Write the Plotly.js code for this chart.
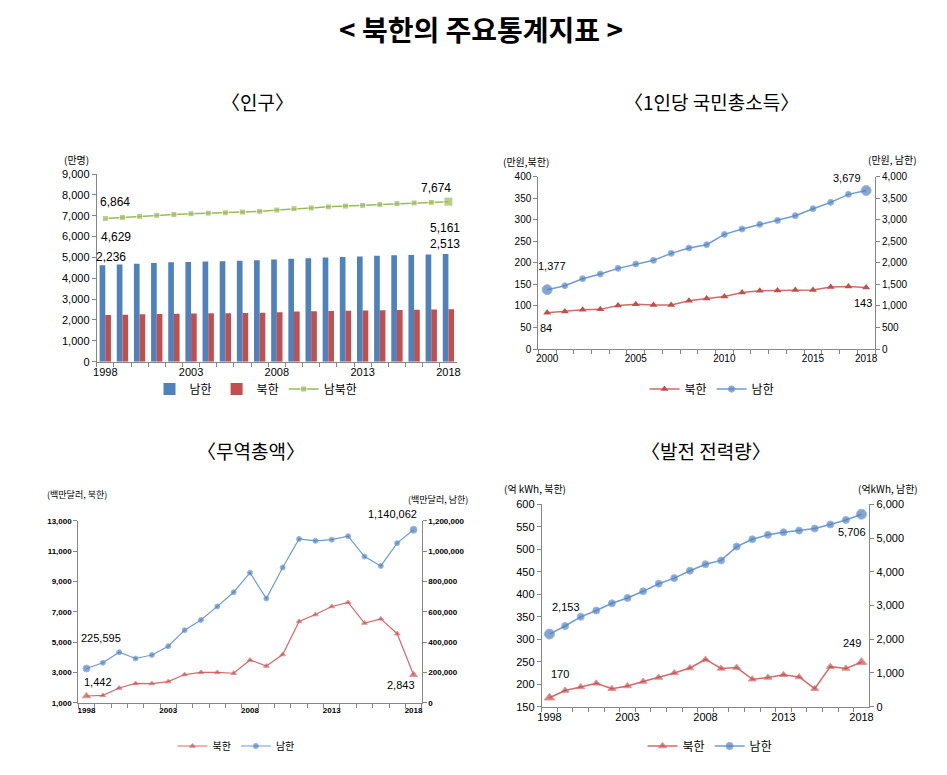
<!DOCTYPE html>
<html>
<head>
<meta charset="utf-8">
<script src="https://cdn.plot.ly/plotly-3.0.1.min.js"></script>
<style>html,body{margin:0;padding:0;background:#fff;}#chart{width:947px;height:775px;}</style>
</head>
<body>
<div id="chart"></div>
<script>
// ---------- DATA ----------
const popYears = ['1998','1999','2000','2001','2002','2003','2004','2005','2006','2007','2008','2009','2010','2011','2012','2013','2014','2015','2016','2017','2018'];
const popSouth = [4629,4662,4701,4736,4764,4786,4804,4814,4837,4860,4905,4931,4955,4994,5020,5043,5075,5102,5122,5136,5161];
const popNorth = [2236,2255,2270,2283,2295,2307,2318,2328,2337,2347,2366,2406,2419,2430,2443,2455,2466,2478,2490,2501,2513];
const popTotal = [6864,6917,6971,7019,7059,7093,7122,7142,7174,7207,7271,7337,7374,7424,7463,7498,7541,7580,7612,7637,7674];
const popTickLabels = ['1998','2003','2008','2013','2018'];

const gniYears = ['2000','2001','2002','2003','2004','2005','2006','2007','2008','2009','2010','2011','2012','2013','2014','2015','2016','2017','2018'];
const gniNorth = [84,87,91,92,101,104,102,102,112,117,122,131,135,136,137,137,144,145,143];
const gniSouth = [1377,1470,1632,1741,1872,1973,2058,2220,2344,2422,2661,2785,2894,2986,3095,3257,3404,3590,3679];
const gniTickLabels = ['2000','2005','2010','2015','2018'];

const tradeYears = popYears;
const tradeNorth = [1442,1480,1969,2270,2260,2391,2857,3002,2996,2941,3816,3414,4174,6357,6811,7345,7611,6252,6532,5550,2843];
const tradeSouth = [225595,263444,332750,291537,314597,372642,478308,545657,634848,728335,857282,686619,891596,1079627,1067454,1075218,1098179,963256,901619,1052173,1140062];
const tradeTickLabels = ['1998','2003','2008','2013','2018'];

const powerYears = popYears;
const powerNorth = [170,186,194,202,190,196,206,215,225,236,255,235,237,211,215,221,216,190,239,235,249];
const powerSouth = [2153,2393,2664,2852,3065,3224,3421,3646,3812,4031,4224,4336,4747,4962,5095,5171,5220,5281,5404,5537,5706];
const powerTickLabels = ['1998','2003','2008','2013','2018'];

// ---------- STYLE ----------
const W = 947, H = 775;
const px = v => v / W;
const py = v => 1 - v / H;
const FONT = 'Liberation Sans, "Noto Sans CJK KR", sans-serif';
const KFONT = '"Noto Sans CJK KR", sans-serif';
const AX = '#868686';
const BLUE = '#4F81BD', RED = '#C0504D', GREEN = '#9BBB59';
const BLUEL = '#6E9BD6', REDL = '#D46A6A';

function endSizes(n, small, big) { return Array.from({length:n}, (_, i) => (i === 0 || i === n-1) ? big : small); }
function lastSizes(n, small, big) { return Array.from({length:n}, (_, i) => (i === n-1) ? big : small); }
const fmt = v => v.toLocaleString('en-US');

function catAxis(domain, cats, shown, anchor, size, weight) {
  const vals = [], txt = [];
  cats.forEach((c, i) => { vals.push(i); txt.push(shown.includes(c) ? c : ''); });
  return {domain: domain, anchor: anchor, type: 'category', showgrid: false, zeroline: false,
    range: [-0.5, cats.length - 0.5], autorange: false,
    showline: true, linecolor: AX, linewidth: 1, ticks: 'outside', ticklen: 4, tickcolor: AX,
    tickson: 'boundaries', tickmode: 'array', tickvals: vals, ticktext: txt, tickangle: 0,
    tickfont: {family: FONT, size: size, color: '#000', weight: weight || 400}, fixedrange: true};
}
function valAxis(domain, range, dtick, anchor, size, extra, weight) {
  return Object.assign({domain: domain, anchor: anchor, range: range, autorange: false, dtick: dtick, tick0: range[0],
    showgrid: false, zeroline: false, showline: true, linecolor: AX, linewidth: 1,
    ticks: 'outside', ticklen: 4, tickcolor: AX, tickformat: ',d',
    tickfont: {family: FONT, size: size, color: '#000', weight: weight || 400}, fixedrange: true}, extra || {});
}

// ---------- TRACES ----------
const traces = [
  {type:'bar', name:'남한', x: popYears, y: popSouth, marker:{color: BLUE}, xaxis:'x', yaxis:'y', legend:'legend'},
  {type:'bar', name:'북한', x: popYears, y: popNorth, marker:{color: RED}, xaxis:'x', yaxis:'y', legend:'legend'},
  {type:'scatter', mode:'lines+markers', name:'남북한', x: popYears, y: popTotal,
    line:{color: GREEN, width: 1.5}, marker:{symbol:'square', color: GREEN, size: lastSizes(popYears.length, 6, 9)},
    xaxis:'x', yaxis:'y', legend:'legend'},

  {type:'scatter', mode:'lines+markers', name:'북한', x: gniYears, y: gniNorth,
    line:{color: REDL, width: 1.5}, marker:{symbol:'triangle-up', color: RED, size: 7},
    xaxis:'x2', yaxis:'y2', legend:'legend2'},
  {type:'scatter', mode:'lines+markers', name:'남한', x: gniYears, y: gniSouth,
    line:{color: BLUEL, width: 1.5}, marker:{symbol:'circle', color: BLUE, size: endSizes(gniYears.length, 6, 10)},
    xaxis:'x2', yaxis:'y3', legend:'legend2'},

  {type:'scatter', mode:'lines+markers', name:'북한', x: tradeYears, y: tradeNorth,
    line:{color: REDL, width: 1.2}, marker:{symbol:'triangle-up', color: RED, size: endSizes(tradeYears.length, 5, 7)},
    xaxis:'x3', yaxis:'y4', legend:'legend3'},
  {type:'scatter', mode:'lines+markers', name:'남한', x: tradeYears, y: tradeSouth,
    line:{color: BLUEL, width: 1.2}, marker:{symbol:'circle', color: BLUE, size: endSizes(tradeYears.length, 5, 7)},
    xaxis:'x3', yaxis:'y5', legend:'legend3'},

  {type:'scatter', mode:'lines+markers', name:'북한', x: powerYears, y: powerNorth,
    line:{color: REDL, width: 1.5}, marker:{symbol:'triangle-up', color: RED, size: endSizes(powerYears.length, 7, 9)},
    xaxis:'x4', yaxis:'y6', legend:'legend4'},
  {type:'scatter', mode:'lines+markers', name:'남한', x: powerYears, y: powerSouth,
    line:{color: BLUEL, width: 1.5}, marker:{symbol:'circle', color: BLUE, size: endSizes(powerYears.length, 7, 10)},
    xaxis:'x4', yaxis:'y7', legend:'legend4'}
];

// ---------- DOMAINS ----------
const d1x = [px(96.7), px(457)],   d1y = [py(361.7), py(174)];
const d2x = [px(538.3), px(875)],  d2y = [py(349), py(176.7)];
const d3x = [px(78.3), px(421.7)], d3y = [py(702.7), py(520.7)];
const d4x = [px(541.7), px(869.3)],d4y = [py(706.7), py(504.3)];

// ---------- ANNOTATIONS ----------
// x is the category index (first = 0, last = n-1)
function dl(xref, yref, idx, y, xs, ys, size) {
  return {xref: xref, yref: yref, x: idx, y: y, text: fmt(y), showarrow: false, xshift: xs, yshift: ys,
    font: {family: FONT, size: size, color: '#000'}};
}
function pt(x, y, text, size, opts) {
  return Object.assign({xref:'paper', yref:'paper', x: px(x), y: py(y), text: text, showarrow: false,
    xanchor:'center', yanchor:'middle', font:{family: KFONT, size: size, color:'#000'}}, opts || {});
}
const nP = popYears.length - 1, nG = gniYears.length - 1, nT = tradeYears.length - 1, nW = powerYears.length - 1;
const annotations = [
  pt(257, 102, '〈인구〉', 19),
  pt(711, 102, '〈1인당 국민총소득〉', 19),
  pt(251, 450, '〈무역총액〉', 19),
  pt(706, 450, '〈발전 전력량〉', 19),
  pt(76, 160, '(만명)', 10),
  pt(526, 162, '(만원,북한)', 10),
  pt(892, 160, '(만원, 남한)', 10),
  pt(77, 494, '(백만달러, 북한)', 9),
  pt(438, 499, '(백만달러, 남한)', 9),
  pt(535, 488, '(억 kWh, 북한)', 10),
  pt(888, 488, '(억kWh, 남한)', 10),
  dl('x','y', 0, popTotal[0], 10, 17, 12),
  dl('x','y', 0, popSouth[0], 11, 28, 12),
  dl('x','y', 0, popNorth[0], 6, 58, 12),
  dl('x','y', nP, popTotal[nP], -12, 14, 12),
  dl('x','y', nP, popSouth[nP], -3, 26, 12),
  dl('x','y', nP, popNorth[nP], -3, 65, 12),
  dl('x2','y3', 0, gniSouth[0], 5, 24, 11),
  dl('x2','y2', 0, gniNorth[0], -1, -15, 11),
  dl('x2','y3', nG, gniSouth[nG], -19, 13, 11),
  dl('x2','y2', nG, gniNorth[nG], -3, -16, 11),
  dl('x3','y5', 0, tradeSouth[0], 15, 30, 11),
  dl('x3','y4', 0, tradeNorth[0], 12, 14, 11),
  dl('x3','y5', nT, tradeSouth[nT], -21, 16, 11),
  dl('x3','y4', nT, tradeNorth[nT], -13, -10, 11),
  dl('x4','y7', 0, powerSouth[0], 16, 27, 11),
  dl('x4','y6', 0, powerNorth[0], 10, 24, 11),
  dl('x4','y7', nW, powerSouth[nW], -10, -18, 11),
  dl('x4','y6', nW, powerNorth[nW], -10, 19, 11)
];

function leg(x, y) {
  return {orientation:'h', x: px(x), xanchor:'center', y: py(y), yanchor:'middle',
    font:{family: KFONT, size: 12, color:'#000'}, bgcolor:'rgba(0,0,0,0)', itemwidth: 30, tracegroupgap: 0};
}

const layout = {
  width: W, height: H,
  margin: {l:0, r:0, t:0, b:0},
  paper_bgcolor: '#fff', plot_bgcolor: '#fff',
  title: {text: '< 북한의 주요통계지표 >', x: px(481), xanchor:'center', y: py(31), yanchor:'middle',
    font: {family: KFONT, size: 28, color:'#000', weight: 700}},
  barmode: 'group', bargap: 0.34, bargroupgap: 0,
  showlegend: true,
  legend: leg(256, 389),
  legend2: leg(712, 389),
  legend3: Object.assign(leg(236, 746), {font:{family: KFONT, size: 10, color:'#000'}}),
  legend4: leg(710, 746),
  xaxis:  catAxis(d1x, popYears, popTickLabels, 'y', 11),
  yaxis:  valAxis(d1y, [0, 9000], 1000, 'x', 11),
  xaxis2: catAxis(d2x, gniYears, gniTickLabels, 'y2', 10),
  yaxis2: valAxis(d2y, [0, 400], 50, 'x2', 10),
  yaxis3: valAxis(d2y, [0, 4000], 500, 'x2', 10, {overlaying:'y2', side:'right'}),
  xaxis3: catAxis(d3x, tradeYears, tradeTickLabels, 'y4', 8, 700),
  yaxis4: valAxis(d3y, [1000, 13000], 2000, 'x3', 8, null, 700),
  yaxis5: valAxis(d3y, [0, 1200000], 200000, 'x3', 8, {overlaying:'y4', side:'right'}, 700),
  xaxis4: catAxis(d4x, powerYears, powerTickLabels, 'y6', 11),
  yaxis6: valAxis(d4y, [150, 600], 50, 'x4', 11),
  yaxis7: valAxis(d4y, [0, 6000], 1000, 'x4', 11, {overlaying:'y6', side:'right'}),
  annotations: annotations
};

Plotly.newPlot('chart', traces, layout, {displayModeBar: false, staticPlot: true});
</script>
</body>
</html>
